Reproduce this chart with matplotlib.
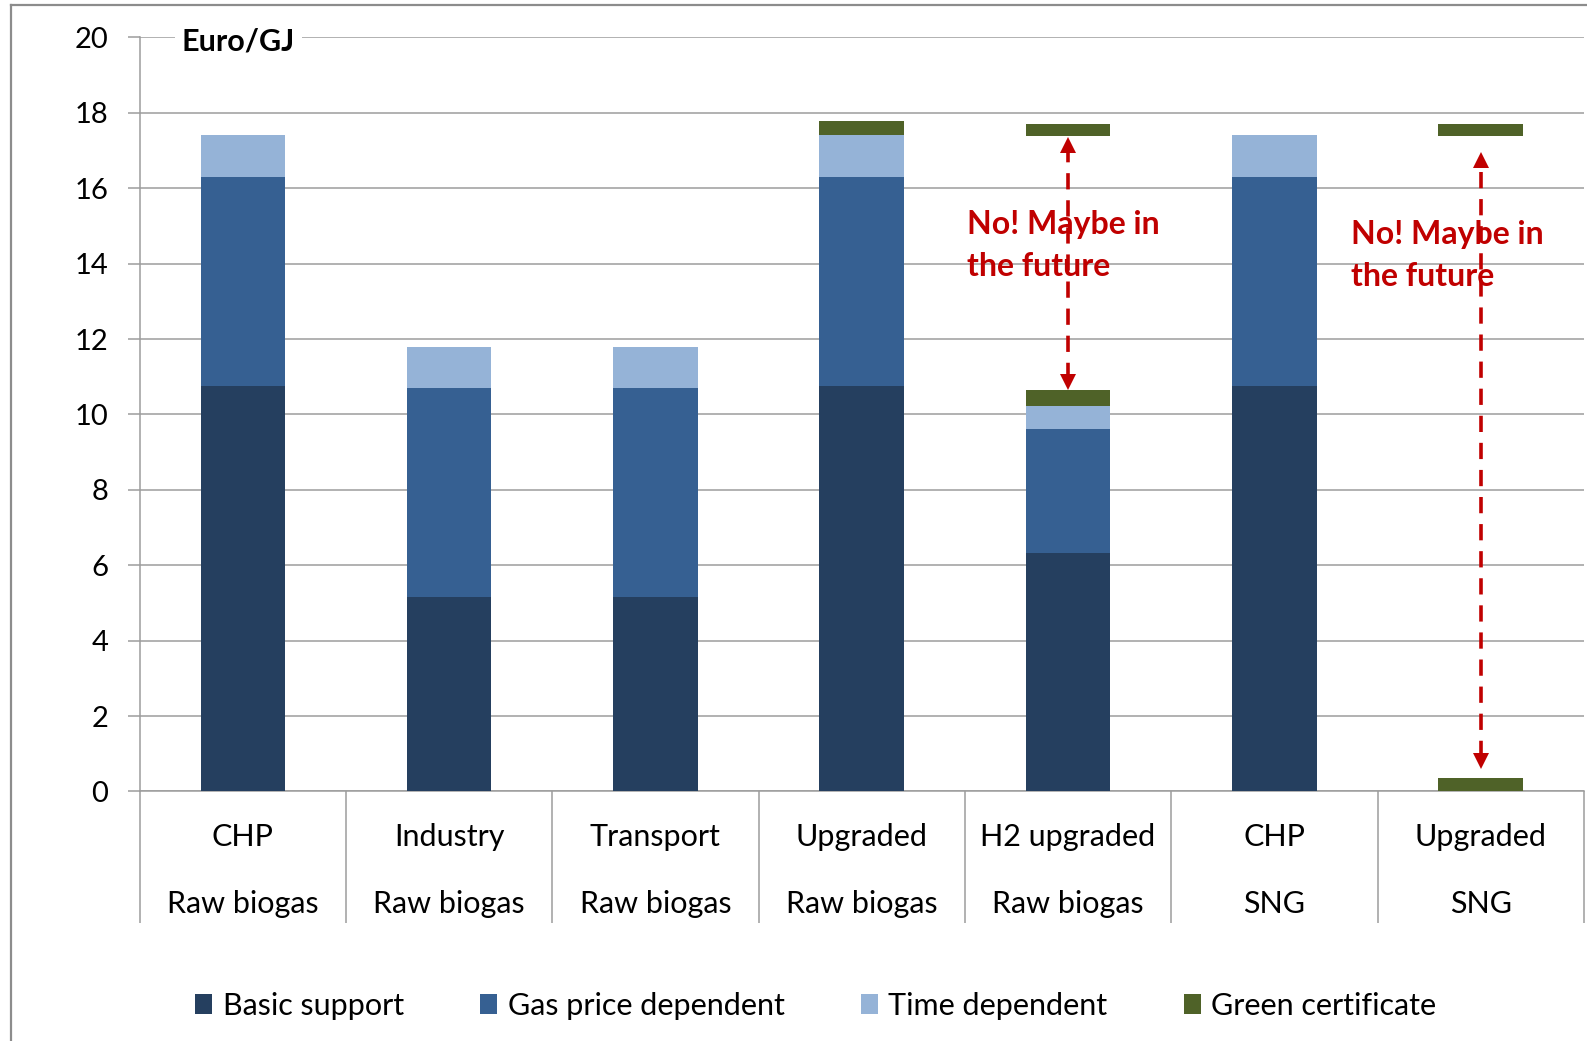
import numpy as np
import matplotlib
matplotlib.use("Agg")
import matplotlib.pyplot as plt
from matplotlib.lines import Line2D

plt.rcParams['font.family'] = ['Lato', 'DejaVu Sans']

# data (Euro/GJ)
cat_top = ["CHP", "Industry", "Transport", "Upgraded", "H2 upgraded", "CHP", "Upgraded"]
cat_bottom = ["Raw biogas", "Raw biogas", "Raw biogas", "Raw biogas", "Raw biogas", "SNG", "SNG"]
basic = [10.75, 5.15, 5.15, 10.75, 6.32, 10.75, 0]
gas_price = [5.55, 5.55, 5.55, 5.55, 3.30, 5.55, 0]
time_dep = [1.10, 1.10, 1.10, 1.10, 0.60, 1.10, 0]
green = [0, 0, 0, 0.37, 0.43, 0, 0.37]
# green certificate "maybe in the future" (floating segments)
future_base = [0, 0, 0, 0, 17.38, 0, 17.38]
future_green = [0, 0, 0, 0, 0.33, 0, 0.33]
# dashed arrows: bar index, upper and lower tip
arrow_idx = [4, 6]
arrow_top = [17.3, 16.9]
arrow_bottom = [10.7, 0.67]

c_basic = "#253f5f"
c_gas = "#366092"
c_time = "#95b3d7"
c_green = "#4f6228"
c_red = "#c00000"
c_grid = "#9c9c9c"

fig = plt.figure(figsize=(15.87, 10.41), dpi=100)
ax = fig.add_axes([0.088, 0.2397, 0.910, 0.7244])

x = np.arange(len(cat_top))
w = 0.41
b1 = np.array(basic)
b2 = b1 + np.array(gas_price)
b3 = b2 + np.array(time_dep)
ax.bar(x, basic, w, color=c_basic, lw=0, label="Basic support", zorder=3)
ax.bar(x, gas_price, w, bottom=b1, color=c_gas, lw=0, label="Gas price dependent", zorder=3)
ax.bar(x, time_dep, w, bottom=b2, color=c_time, lw=0, label="Time dependent", zorder=3)
ax.bar(x, green, w, bottom=b3, color=c_green, lw=0, label="Green certificate", zorder=3)
ax.bar(x, future_green, w, bottom=future_base, color=c_green, lw=0, zorder=3)

# arrows + notes for the hypothetical certificate
for i, y_hi, y_lo in zip(arrow_idx, arrow_top, arrow_bottom):
    ax.plot([i, i], [y_lo + 0.25, y_hi - 0.25], color=c_red, lw=2.6,
            ls=(0, (4.5, 3)), zorder=4)
    ax.plot(i, y_hi - 0.15, marker='^', ms=11, color=c_red, mew=0, zorder=4)
    ax.plot(i, y_lo + 0.15, marker='v', ms=11, color=c_red, mew=0, zorder=4)
ax.text(4 - 0.49, 15.03, "No! Maybe in", color=c_red, fontsize=23, fontweight='bold',
        ha='left', va='center', zorder=5)
ax.text(4 - 0.49, 13.92, "the future", color=c_red, fontsize=23, fontweight='bold',
        ha='left', va='center', zorder=5)
ax.text(6 - 0.63, 14.77, "No! Maybe in", color=c_red, fontsize=23, fontweight='bold',
        ha='left', va='center', zorder=5)
ax.text(6 - 0.63, 13.66, "the future", color=c_red, fontsize=23, fontweight='bold',
        ha='left', va='center', zorder=5)

ax.set_xlim(-0.5, len(cat_top) - 0.5)
ax.set_ylim(0, 20)
ax.set_yticks(np.arange(0, 21, 2))
ax.tick_params(axis='y', length=8.6, width=1.1, color=c_grid, pad=14, labelsize=21)
ax.yaxis.grid(True, color=c_grid, lw=1.1, zorder=0)
ax.set_axisbelow(True)

# category separators as long minor ticks, labels as text
ax.set_xticks([])
ax.set_xticks(np.arange(-0.5, len(cat_top)), minor=True)
ax.tick_params(axis='x', which='minor', length=95, width=1.1, color=c_grid,
               labelbottom=False)
for i in x:
    ax.text(i, -0.0603, cat_top[i], transform=ax.get_xaxis_transform(), ha='center',
            va='center', fontsize=22)
    ax.text(i, -0.149, cat_bottom[i], transform=ax.get_xaxis_transform(), ha='center',
            va='center', fontsize=22)

for s in ['top', 'right']:
    ax.spines[s].set_visible(False)
for s in ['left', 'bottom']:
    ax.spines[s].set_color(c_grid)
    ax.spines[s].set_linewidth(1.1)

ax.text(0.029, 19.9, "Euro/GJ", transform=ax.get_yaxis_transform(), fontsize=22,
        fontweight='bold', ha='left', va='center',
        bbox=dict(facecolor='white', edgecolor='none', pad=5), zorder=5)

fig.legend(loc='center', bbox_to_anchor=(0.514, 0.034), ncol=4, frameon=False,
           fontsize=22, handlelength=0.55, handleheight=0.6, handletextpad=0.35,
           columnspacing=2.5)

# chart frame (left and top edges)
fig.add_artist(Line2D([11 / 1587, 11 / 1587], [0, 1 - 5 / 1041], color="#8c8c8c", lw=1.6))
fig.add_artist(Line2D([11 / 1587, 1], [1 - 5 / 1041, 1 - 5 / 1041], color="#8c8c8c", lw=1.6))

fig.savefig("out.png", dpi=100)
